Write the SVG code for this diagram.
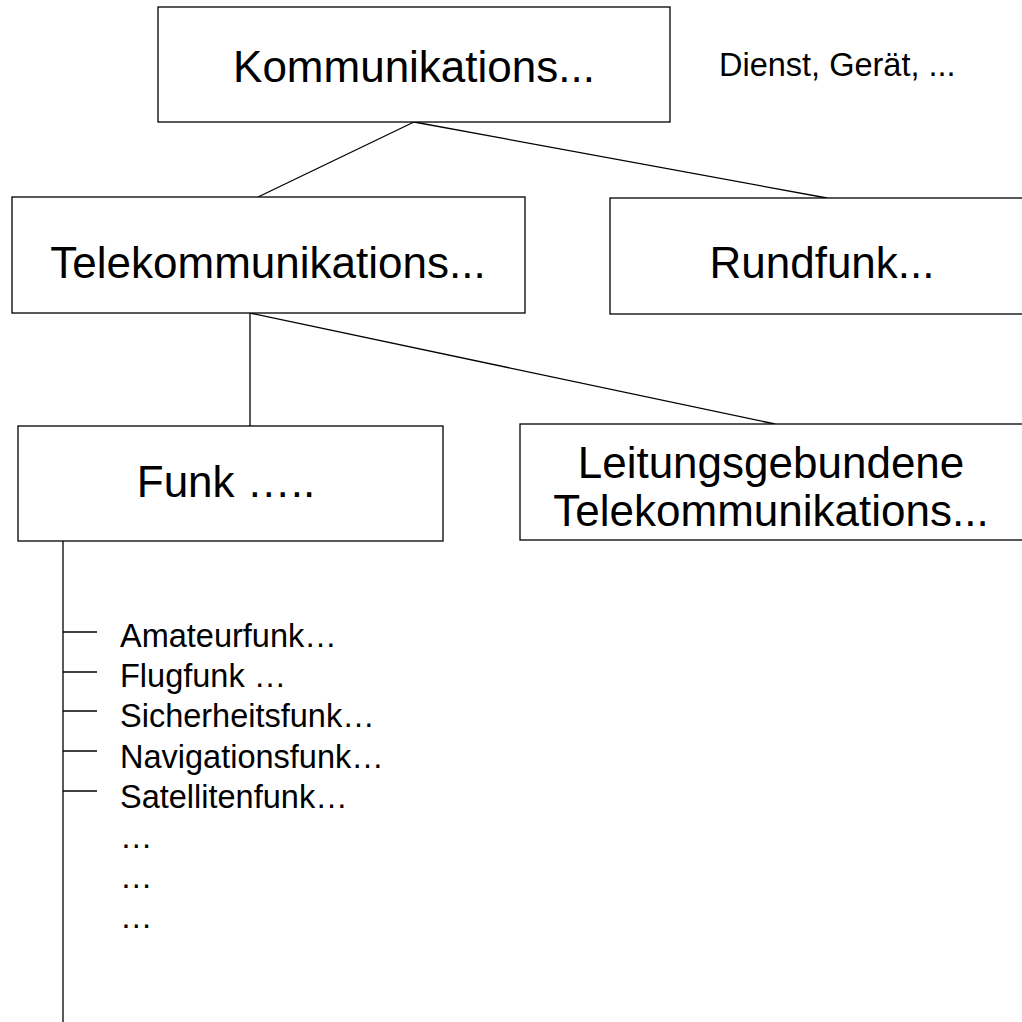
<svg xmlns="http://www.w3.org/2000/svg" width="1022" height="1022" viewBox="0 0 1022 1022">
<style>
.box{fill:#fff;stroke:#000;stroke-width:1.3}
.big{font-family:"Liberation Sans",Arial,sans-serif;font-size:44px;fill:#000;text-anchor:middle}
.small{font-family:"Liberation Sans",Arial,sans-serif;font-size:32.5px;fill:#000}
.ln{stroke:#000;stroke-width:1.3;fill:none}
</style>
<rect width="1022" height="1022" fill="#fff"/>
<g id="connectors">
<line class="ln" x1="414" y1="122" x2="258" y2="197"/>
<line class="ln" x1="414" y1="122" x2="827" y2="198"/>
<line class="ln" x1="250" y1="313" x2="250" y2="426"/>
<line class="ln" x1="250" y1="313" x2="775" y2="424"/>
<line class="ln" x1="63" y1="541" x2="63" y2="1022"/>
<line class="ln" x1="63" y1="632" x2="97" y2="632"/>
<line class="ln" x1="63" y1="672" x2="97" y2="672"/>
<line class="ln" x1="63" y1="711" x2="97" y2="711"/>
<line class="ln" x1="63" y1="751" x2="97" y2="751"/>
<line class="ln" x1="63" y1="791" x2="97" y2="791"/>
</g>
<g id="n-kommunikation">
<rect class="box" x="158" y="7" width="512" height="115"/>
<text class="big" x="414" y="82">Kommunikations...</text>
</g>
<g id="n-note">
<text class="small" x="719" y="76" font-size="31.5">Dienst, Gerät, ...</text>
</g>
<g id="n-telekom">
<rect class="box" x="12" y="197" width="513" height="116"/>
<text class="big" x="268" y="278">Telekommunikations...</text>
</g>
<g id="n-rundfunk">
<rect class="box" x="610" y="198" width="420" height="116"/>
<text class="big" x="822" y="278">Rundfunk...</text>
</g>
<g id="n-funk">
<rect class="box" x="18" y="426" width="425" height="115"/>
<text class="big" x="226" y="497">Funk …..</text>
</g>
<g id="n-leitung">
<rect class="box" x="520" y="424" width="510" height="116"/>
<text class="big" x="771" y="478">Leitungsgebundene</text>
<text class="big" x="771" y="526">Telekommunikations...</text>
</g>
<g id="n-list">
<text class="small" x="120" y="647">Amateurfunk…</text>
<text class="small" x="120" y="687">Flugfunk …</text>
<text class="small" x="120" y="727">Sicherheitsfunk…</text>
<text class="small" x="120" y="768">Navigationsfunk…</text>
<text class="small" x="120" y="808">Satellitenfunk…</text>
<text class="small" x="120" y="848">…</text>
<text class="small" x="120" y="888">…</text>
<text class="small" x="120" y="928">…</text>
</g>
</svg>
